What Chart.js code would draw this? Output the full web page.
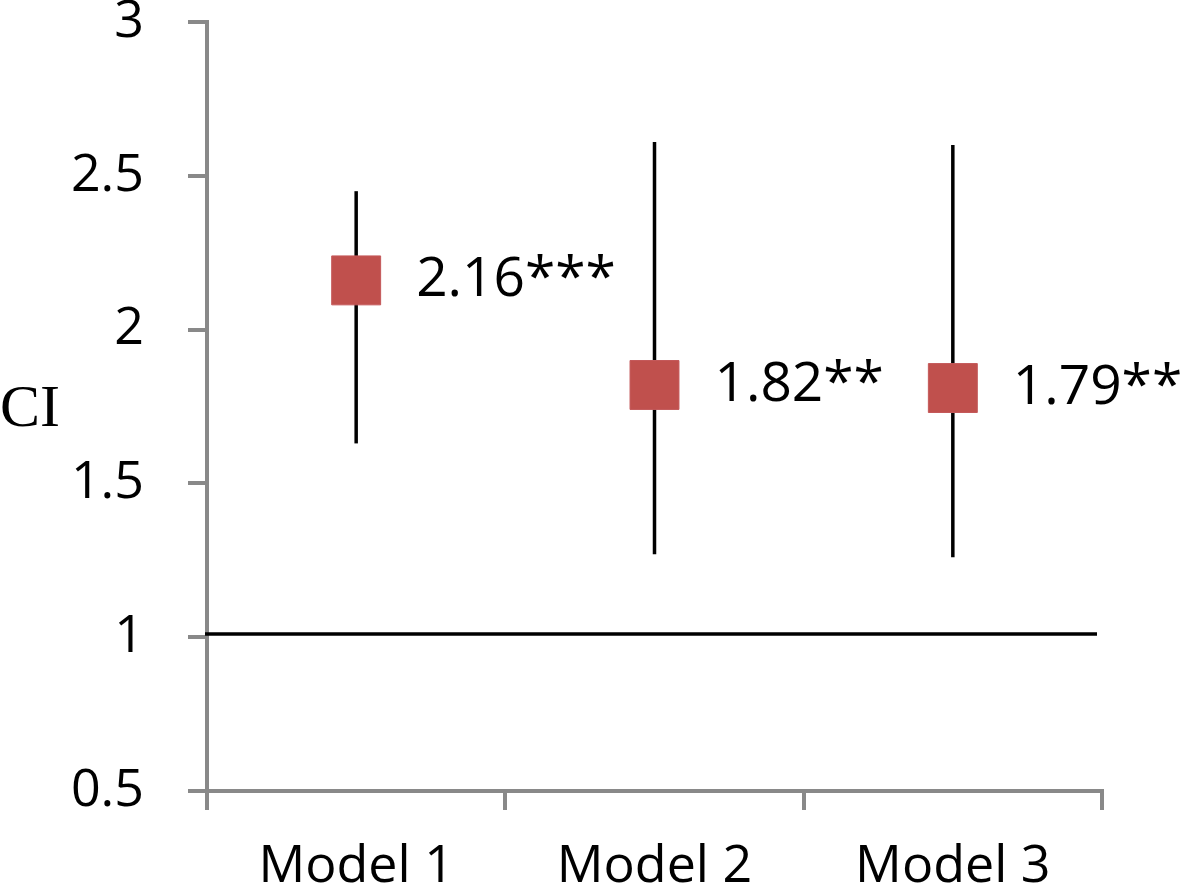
<!DOCTYPE html>
<html>
<head>
<meta charset="utf-8">
<script src="https://cdn.jsdelivr.net/npm/chart.js@4"></script>
<style>
  html, body { margin: 0; padding: 0; background: #fff; }
  #wrap { width: 1184px; height: 892px; position: relative; }
</style>
</head>
<body>
<div id="wrap"><canvas id="ciChart"></canvas></div>
<script>
const models = ['Model 1', 'Model 2', 'Model 3'];
const estimates = [2.16, 1.82, 1.81];
const lowerCI = [1.63, 1.27, 1.26];
const upperCI = [2.45, 2.61, 2.60];
const estLabels = ['2.16***', '1.82**', '1.79**'];
const refValue = 1.01;

const axisGray = '#898989';

// error bars, reference line, value labels and the "CI" axis name
const ciPlugin = {
  id: 'ciPlugin',
  beforeDatasetsDraw(chart) {
    const { ctx, chartArea, scales: { x, y } } = chart;
    ctx.save();
    ctx.strokeStyle = '#000';
    ctx.lineWidth = 3.5;
    // reference line
    const yr = y.getPixelForValue(refValue);
    ctx.beginPath();
    ctx.moveTo(chartArea.left - 2, yr);
    ctx.lineTo(chartArea.right - 5, yr);
    ctx.stroke();
    // whiskers
    models.forEach((m, i) => {
      const px = x.getPixelForValue(i);
      ctx.beginPath();
      ctx.moveTo(px, y.getPixelForValue(lowerCI[i]));
      ctx.lineTo(px, y.getPixelForValue(upperCI[i]));
      ctx.stroke();
    });
    ctx.restore();
  },
  afterDatasetsDraw(chart) {
    const { ctx, chartArea, scales: { x, y } } = chart;
    ctx.save();
    ctx.fillStyle = '#000';
    ctx.font = '55px "Open Sans"';
    ctx.textBaseline = 'middle';
    ctx.textAlign = 'left';
    estLabels.forEach((t, i) => {
      ctx.fillText(t, x.getPixelForValue(i) + 60, y.getPixelForValue(estimates[i]));
    });
    ctx.font = '60px "Liberation Serif"';
    ctx.fillText('CI', 0, (chartArea.top + chartArea.bottom) / 2 + 4);
    ctx.restore();
  }
};

new Chart(document.getElementById('ciChart'), {
  type: 'line',
  data: {
    labels: models,
    datasets: [{
      data: estimates,
      showLine: false,
      pointStyle: 'rect',
      pointRadius: 34.6,
      pointHoverRadius: 34.6,
      backgroundColor: '#c0504d',
      borderColor: '#c4595a',
      borderWidth: 1
    }]
  },
  options: {
    responsive: true,
    maintainAspectRatio: false,
    animation: false,
    layout: { autoPadding: false, padding: { left: 0, right: 82, top: 0, bottom: 0 } },
    plugins: {
      legend: { display: false },
      tooltip: { enabled: false }
    },
    scales: {
      x: {
        offset: true,
        grid: {
          offset: true,
          drawOnChartArea: false,
          color: axisGray,
          lineWidth: 4,
          tickLength: 19
        },
        border: { display: true, color: axisGray, width: 4 },
        ticks: {
          color: '#000',
          padding: 34,
          font: { family: '"Open Sans"', size: 52, lineHeight: 0.9 }
        },
        afterFit(s) { s.height = 101; }
      },
      y: {
        min: 0.5,
        max: 3,
        grid: {
          drawOnChartArea: false,
          color: axisGray,
          lineWidth: 4,
          tickLength: 19
        },
        border: { display: true, color: axisGray, width: 4 },
        ticks: {
          stepSize: 0.5,
          color: '#000',
          padding: 44,
          font: { family: '"Open Sans"', size: 52, lineHeight: 0.9 },
          callback: v => String(v)
        },
        afterFit(s) {
          s.width = 207;
          s.paddingTop = 22;
          s.paddingBottom = 22;
        }
      }
    }
  },
  plugins: [ciPlugin]
});
</script>
</body>
</html>
